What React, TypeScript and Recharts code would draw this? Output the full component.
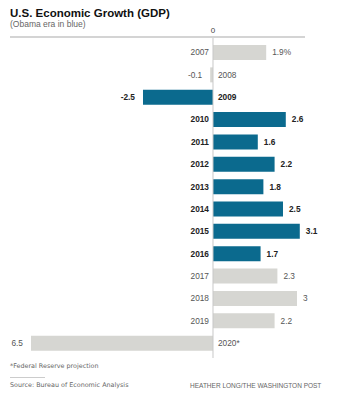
import React from 'react';
import { BarChart, Bar, XAxis, YAxis, ReferenceLine, LabelList, Cell } from 'recharts';

const years = ['2007', '2008', '2009', '2010', '2011', '2012', '2013', '2014', '2015', '2016', '2017', '2018', '2019', '2020*'];
const growth = [1.9, -0.1, -2.5, 2.6, 1.6, 2.2, 1.8, 2.5, 3.1, 1.7, 2.3, 3, 2.2, -6.5];
const valueLabels = ['1.9%', '-0.1', '-2.5', '2.6', '1.6', '2.2', '1.8', '2.5', '3.1', '1.7', '2.3', '3', '2.2', '6.5'];
const obamaEra = [false, false, true, true, true, true, true, true, true, true, false, false, false, false];
const xTicks = [0];

const BLUE = '#0b6a8e';
const GREY = '#d6d6d2';

const data = years.map((y, i) => ({ year: y, value: growth[i], label: valueLabels[i], obama: obamaEra[i] }));

const FONT = '"Liberation Sans", Arial, sans-serif';
const NARROW = '"Liberation Sans Narrow", "Liberation Sans", Arial, sans-serif';
const WIDE = '"DejaVu Sans", "Liberation Sans", Arial, sans-serif';

const RowLabel = (props: any) => {
  const { x, y, width, height, index } = props;
  const d = data[index];
  const left = Math.min(x, x + width);
  const right = Math.max(x, x + width);
  const cy = y + height / 2;
  const pos = d.value >= 0;
  const zero = pos ? left : right;
  const end = pos ? right : left;
  const weight = d.obama ? 'bold' : 'normal';
  const color = d.obama ? '#222' : '#555';
  return (
    <g>
      <text x={pos ? zero - 4 : zero + 5} y={cy} dy="0.35em" textAnchor={pos ? 'end' : 'start'} fontSize={8.3} fontWeight={weight} fill={color} fontFamily={FONT}>
        {d.year}
      </text>
      <text x={pos ? end + 6 : end - 8} y={cy} dy="0.35em" textAnchor={pos ? 'start' : 'end'} fontSize={8.3} fontWeight={weight} fill={color} fontFamily={FONT}>
        {d.label}
      </text>
    </g>
  );
};

export default function App() {
  return (
    <div style={{ position: 'absolute', left: 0, top: 0, width: 358, height: 400, background: '#fff', fontFamily: FONT }}>
      <div style={{ position: 'absolute', left: 10, top: 6, fontSize: 11.5, fontWeight: 'bold', color: '#111', fontFamily: NARROW, whiteSpace: 'nowrap', lineHeight: '14px' }}>
        U.S. Economic Growth (GDP)
      </div>
      <div style={{ position: 'absolute', left: 10, top: 19, fontSize: 8.5, color: '#666', fontFamily: NARROW, whiteSpace: 'nowrap', lineHeight: '10px' }}>
        (Obama era in blue)
      </div>
      <BarChart
        width={358}
        height={400}
        data={data}
        layout="vertical"
        margin={{ top: 20, right: 53, bottom: 42, left: 10 }}
        barSize={15}
      >
        <XAxis
          type="number"
          orientation="top"
          domain={[-7.25, 3.286]}
          ticks={xTicks}
          height={17}
          axisLine={{ stroke: '#d4d4d4', strokeWidth: 2 }}
          tickLine={false}
          tickSize={0}
          tickMargin={4}
          tick={{ fontSize: 8, fill: '#444', fontFamily: FONT }}
          allowDataOverflow
        />
        <YAxis type="category" dataKey="year" hide padding={{ top: 4, bottom: 4 }} />
        <Bar dataKey="value" isAnimationActive={false}>
          {data.map((d, i) => (
            <Cell key={i} fill={d.obama ? BLUE : GREY} />
          ))}
          <LabelList dataKey="value" content={<RowLabel />} />
        </Bar>
        <ReferenceLine x={0} stroke="#c8c8c8" strokeWidth={1} />
      </BarChart>
      <div style={{ position: 'absolute', left: 10, top: 362, fontSize: 6.4, color: '#666', whiteSpace: 'nowrap', lineHeight: '9px', fontFamily: WIDE }}>
        *Federal Reserve projection
      </div>
      <div style={{ position: 'absolute', left: 10, top: 377, width: 35, height: 1, background: '#ccc' }} />
      <div style={{ position: 'absolute', left: 10, top: 381, fontSize: 6.4, color: '#666', whiteSpace: 'nowrap', lineHeight: '9px', fontFamily: WIDE }}>
        Source: Bureau of Economic Analysis
      </div>
      <div style={{ position: 'absolute', left: 190, top: 381, fontSize: 6.5, color: '#666', whiteSpace: 'nowrap', lineHeight: '9px', fontFamily: NARROW }}>
        HEATHER LONG/THE WASHINGTON POST
      </div>
    </div>
  );
}
